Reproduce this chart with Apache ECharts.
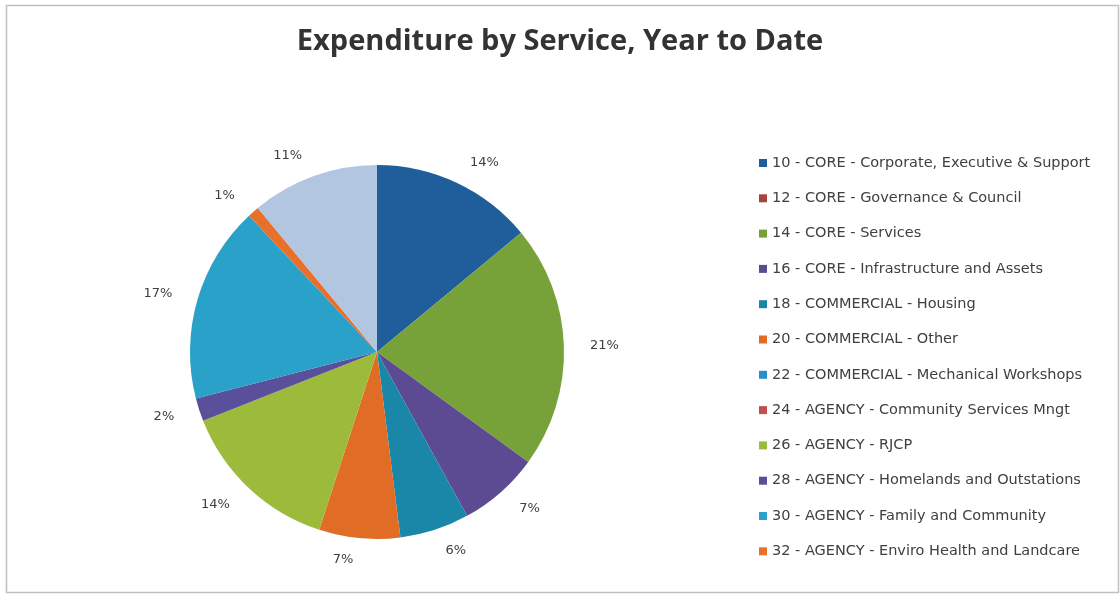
<!DOCTYPE html>
<html>
<head>
<meta charset="utf-8">
<style>
  html, body { margin: 0; padding: 0; background: #fff; }
  #chart { width: 1120px; height: 594px; }
</style>
<script src="https://cdn.jsdelivr.net/npm/echarts@6/dist/echarts.min.js"></script>
</head>
<body>
<div id="chart"></div>
<script>
// Service categories in pie order (clockwise from 12 o'clock)
const categories = [
  '10 - CORE - Corporate, Executive & Support',
  '12 - CORE - Governance & Council',
  '14 - CORE - Services',
  '16 - CORE - Infrastructure and Assets',
  '18 - COMMERCIAL - Housing',
  '20 - COMMERCIAL - Other',
  '22 - COMMERCIAL - Mechanical Workshops',
  '24 - AGENCY - Community Services Mngt',
  '26 - AGENCY - RJCP',
  '28 - AGENCY - Homelands and Outstations',
  '30 - AGENCY - Family and Community',
  '32 - AGENCY - Enviro Health and Landcare',
  '34 - AGENCY - Other Programs'
];

// Share of year-to-date expenditure, percent
const shares = [14, 0, 21, 7, 6, 7, 0, 0, 14, 2, 17, 1, 11];

// Slice colours per category
const colors = [
  '#1f5d9b', '#a5453f', '#77a23a', '#5c4b92', '#1b87a8', '#e06c26',
  '#2a8fc8', '#c0504d', '#9cbb3b', '#5a4f9b', '#2aa1c9', '#e8702a',
  '#b2c6e2'
];

// Legend lists the first twelve services
const legendNames = categories.slice(0, 12);

const chart = echarts.init(document.getElementById('chart'));

const pieData = categories.map((name, i) => ({
  name: name,
  value: shares[i],
  itemStyle: { color: colors[i] },
  label: { show: shares[i] > 0 }
}));

chart.setOption({
  backgroundColor: '#ffffff',
  animation: false,
  title: {
    text: 'Expenditure by Service, Year to Date',
    left: 'center',
    top: 22,
    textStyle: {
      fontFamily: 'Open Sans',
      fontWeight: 'bold',
      fontSize: 29,
      color: '#333333'
    }
  },
  graphic: [{
    type: 'rect',
    shape: { x: 6.5, y: 5.5, width: 1112, height: 587 },
    style: { fill: 'none', stroke: '#bfbfbf', lineWidth: 1.5 },
    silent: true
  }],
  legend: {
    orient: 'vertical',
    left: 754,
    top: 150,
    data: legendNames,
    icon: 'rect',
    itemWidth: 8,
    itemHeight: 8,
    itemGap: 19.3,
    selectedMode: false,
    textStyle: {
      fontFamily: 'DejaVu Sans',
      fontSize: 14.5,
      lineHeight: 16,
      color: '#404040'
    }
  },
  series: [{
    type: 'pie',
    center: [377, 352],
    radius: 187,
    startAngle: 90,
    clockwise: true,
    avoidLabelOverlap: false,
    data: pieData,
    itemStyle: { borderWidth: 0 },
    label: {
      position: 'outside',
      formatter: '{c}%',
      fontFamily: 'DejaVu Sans',
      fontSize: 13,
      color: '#404040',
      distanceToLabelLine: 4
    },
    labelLine: { show: false, length: 22, length2: 0 },
    emphasis: { disabled: true }
  }]
});
</script>
</body>
</html>
